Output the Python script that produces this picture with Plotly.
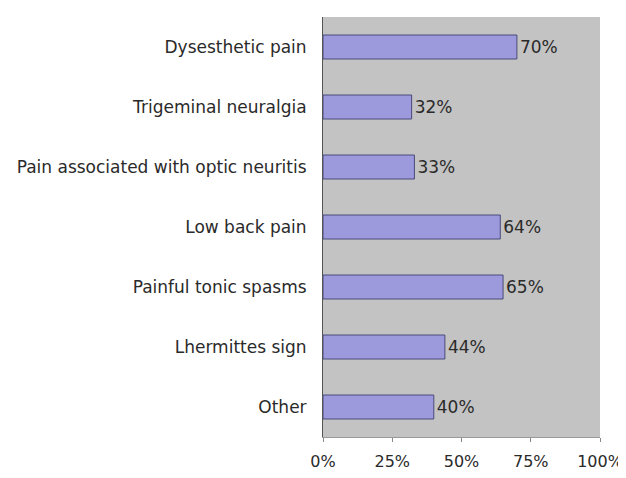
import plotly.graph_objects as go

categories = ["Dysesthetic pain", "Trigeminal neuralgia", "Pain associated with optic neuritis",
              "Low back pain", "Painful tonic spasms", "Lhermittes sign", "Other"]
values = [70, 32, 33, 64, 65, 44, 40]
tick_vals = [0, 25, 50, 75, 100]
tick_text = ["0%", "25%", "50%", "75%", "100%"]

fig = go.Figure(go.Bar(
    y=categories, x=values, orientation="h",
    marker=dict(color="#9c99dc", line=dict(color="#4a4a7a", width=1)),
    width=0.4,
    text=[f"{v}%" for v in values], textposition="outside",
    textfont=dict(size=17, color="#2a2a2a"),
    cliponaxis=False,
))
# page body has an 8px margin: compensate so the plot lands where the reference has it
fig.update_layout(
    width=618, height=470,
    margin=dict(l=315, r=26, t=9, b=41),
    paper_bgcolor="white", plot_bgcolor="#c3c3c3",
    font=dict(family="DejaVu Sans, sans-serif", size=17, color="#2a2a2a"),
    showlegend=False,
)
fig.update_xaxes(range=[0, 100], tickvals=tick_vals, ticktext=tick_text, showgrid=False,
                 zeroline=False, ticks="outside", ticklen=4, tickcolor="#888888",
                 showline=True, linecolor="#999999", ticklabelstandoff=6,
                 automargin=False, ticklabeloverflow="allow", tickfont=dict(size=16))
fig.update_yaxes(autorange="reversed", showgrid=False, showline=True, linecolor="#555555",
                 ticks="", ticklabelstandoff=12, automargin=False)
fig.write_html("out.html")
